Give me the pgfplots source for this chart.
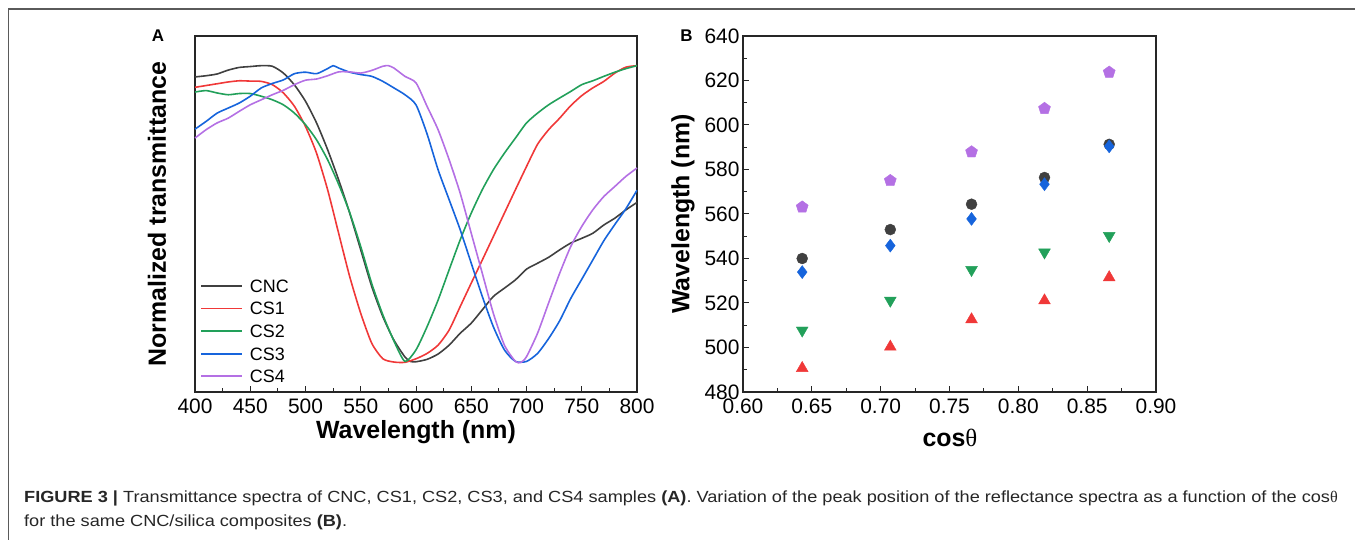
\documentclass[border=0pt]{standalone}
\usepackage{fontspec}
\setmainfont{Liberation Sans}
\newfontfamily\serif{Liberation Serif}
\newfontfamily\capfont[FakeStretch=1.125]{Liberation Sans}
\usepackage{pgfplots}
\pgfplotsset{compat=1.18}
\usetikzlibrary{plotmarks}
\definecolor{cCNC}{RGB}{64,64,64}
\definecolor{cCS1}{RGB}{240,56,56}
\definecolor{cCS2}{RGB}{34,160,90}
\definecolor{cCS3}{RGB}{22,100,220}
\definecolor{cCS4}{RGB}{180,112,228}
\definecolor{frame}{RGB}{90,90,90}

\pgfplotstableread{
x y
400 0.962
410 0.966
420 0.972
430 0.985
440 0.994
450 0.997
460 1.0
470 0.998
480 0.975
490 0.935
500 0.88
510 0.807
520 0.717
530 0.615
540 0.503
550 0.379
560 0.255
570 0.154
580 0.075
590 0.018
595 0.003
600 0.002
610 0.01
620 0.028
630 0.058
640 0.098
650 0.132
660 0.177
670 0.222
680 0.25
690 0.278
700 0.314
710 0.334
720 0.354
730 0.379
740 0.402
750 0.418
760 0.435
770 0.463
780 0.486
790 0.514
800 0.539
}\tCNC

\pgfplotstableread{
x y
400 0.927
410 0.933
420 0.939
430 0.945
440 0.949
450 0.948
460 0.947
470 0.936
480 0.908
490 0.863
500 0.795
510 0.705
520 0.582
530 0.435
540 0.289
550 0.165
560 0.064
570 0.012
580 0.001
590 0.0
600 0.012
610 0.03
620 0.058
630 0.109
640 0.188
650 0.267
660 0.345
670 0.424
680 0.503
690 0.582
700 0.66
710 0.735
720 0.784
730 0.823
740 0.865
750 0.899
760 0.925
770 0.947
780 0.975
790 0.995
800 1.0
}\tCSa

\pgfplotstableread{
x y
400 0.911
410 0.916
420 0.908
430 0.902
440 0.906
450 0.906
460 0.897
470 0.885
480 0.868
490 0.84
500 0.801
510 0.75
520 0.683
530 0.6
540 0.505
550 0.39
560 0.265
570 0.16
580 0.072
590 0.003
600 0.042
610 0.12
620 0.21
630 0.312
640 0.413
650 0.503
660 0.582
670 0.649
680 0.705
690 0.756
700 0.807
710 0.84
720 0.868
730 0.891
740 0.913
750 0.936
760 0.949
770 0.964
780 0.978
790 0.99
800 1.0
}\tCSb

\pgfplotstableread{
x y
400 0.786
410 0.812
420 0.84
430 0.857
440 0.874
450 0.897
460 0.925
470 0.94
480 0.952
490 0.973
500 0.978
510 0.973
520 0.99
525 1.0
530 0.992
540 0.978
550 0.97
560 0.964
570 0.947
580 0.925
590 0.902
600 0.868
610 0.77
620 0.649
630 0.548
640 0.447
650 0.334
660 0.222
670 0.12
680 0.042
690 0.003
700 0.003
710 0.03
720 0.08
730 0.14
740 0.215
750 0.28
760 0.345
770 0.41
780 0.465
790 0.518
800 0.58
}\tCSc

\pgfplotstableread{
x y
400 0.756
410 0.784
420 0.807
430 0.823
440 0.846
450 0.868
460 0.885
470 0.902
480 0.917
490 0.936
500 0.951
510 0.955
520 0.966
530 0.979
540 0.979
550 0.975
560 0.984
570 0.998
575 1.0
580 0.992
590 0.964
600 0.942
610 0.863
620 0.784
630 0.683
640 0.57
650 0.435
660 0.3
670 0.165
680 0.058
690 0.003
695 0.0
700 0.019
710 0.098
720 0.2
730 0.3
740 0.39
750 0.458
760 0.514
770 0.559
780 0.593
790 0.627
800 0.655
}\tCSd

\pgfplotstableread{
x y
0.643 540.0
0.707 553.0
0.766 564.4
0.819 576.4
0.866 591.3
}\bCNC
\pgfplotstableread{
x y
0.643 490.7
0.707 500.3
0.766 512.6
0.819 521.1
0.866 531.5
}\bCSa
\pgfplotstableread{
x y
0.643 507.7
0.707 521.1
0.766 534.9
0.819 542.8
0.866 550.2
}\bCSb
\pgfplotstableread{
x y
0.643 533.9
0.707 545.8
0.766 557.8
0.819 573.4
0.866 590.4
}\bCSc
\pgfplotstableread{
x y
0.643 563.1
0.707 575.0
0.766 587.9
0.819 607.4
0.866 623.7
}\bCSd

\pgfplotsset{
  common/.style={
    scale only axis,
    axis line style={line width=1.4bp, black!85},
    tick style={line width=1bp, black!85},
    tick align=inside,
    major tick length=6bp,
    minor tick length=3.5bp,
    tick label style={font=\fontsize{21}{21}\selectfont, /pgf/number format/assume math mode=true},
    label style={font=\fontsize{25}{25}\selectfont\bfseries},
    xticklabel style={yshift=-3bp},
    clip=false,
  },
  curve/.style={line width=1.6bp, smooth, tension=0.4},
}

\begin{document}
\begin{tikzpicture}
\useasboundingbox (0bp,0bp) rectangle (1355bp,540bp);
\draw[frame, line width=1.2bp] (8.5bp,0bp) -- (8.5bp,531bp) -- (1355bp,531bp);

\begin{axis}[common,
  at={(195bp,148bp)}, anchor=south west,
  width=442bp, height=356bp,
  xmin=400, xmax=800, ymin=-0.1, ymax=1.1,
  xtick={400,450,...,800}, minor x tick num=1,
  ytick=\empty,
  xtick pos=left,
  xlabel={Wavelength (nm)},
  ylabel={Normalized transmittance},
  xlabel style={at={(axis description cs:0.5,-0.1124)}, anchor=center},
  ylabel style={at={(axis description cs:-0.086,0.5)}, anchor=center},
  legend style={at={(axis description cs:0.0113,0.3169)}, anchor=north west,
    draw=none, fill=none, inner sep=0pt, row sep=9.6bp, column sep=7bp,
    font=\fontsize{18}{18}\selectfont,
    nodes={inner sep=0pt, text height=13bp, text depth=0bp}},
  legend cell align=left,
  legend image code/.code={\draw[#1, sharp plot, line width=1.8bp] (0bp,0bp) -- (41bp,0bp);},
]
\addplot[curve, color=cCNC] table {\tCNC};
\addplot[curve, color=cCS1] table {\tCSa};
\addplot[curve, color=cCS2] table {\tCSb};
\addplot[curve, color=cCS3] table {\tCSc};
\addplot[curve, color=cCS4] table {\tCSd};
\legend{CNC, CS1, CS2, CS3, CS4}
\end{axis}

\begin{axis}[common,
  at={(743bp,148bp)}, anchor=south west,
  width=413bp, height=356bp,
  xmin=0.6, xmax=0.9, ymin=480, ymax=640,
  xtick={0.6,0.65,0.7,0.75,0.8,0.85,0.9},
  ytick={480,500,520,540,560,580,600,620,640},
  minor x tick num=1, minor y tick num=1,
  tick pos=left,
  xticklabel style={/pgf/number format/.cd, fixed, fixed zerofill, precision=2},
  yticklabel style={/pgf/number format/.cd, fixed, precision=0},
  xlabel={cos{\serif\mdseries θ}},
  ylabel={Wavelength (nm)},
  xlabel style={at={(axis description cs:0.501,-0.129)}, anchor=center},
  ylabel style={at={(axis description cs:-0.1453,0.5)}, anchor=center},
]
\addplot[only marks, mark=*, mark size=5.5bp, mark options={draw=cCNC, fill=cCNC}] table {\bCNC};
\addplot[only marks, mark=triangle*, mark size=6.8bp, mark options={draw=cCS1, fill=cCS1}] table {\bCSa};
\addplot[only marks, mark=triangle*, mark size=6.8bp, mark options={draw=cCS2, fill=cCS2, rotate=180}] table {\bCSb};
\addplot[only marks, mark=pentagon*, mark size=6.3bp, mark options={draw=cCS4, fill=cCS4}] table {\bCSd};
\addplot[only marks, mark=diamond*, mark size=6.5bp, mark options={draw=cCS3, fill=cCS3}] table {\bCSc};
\end{axis}

\node[font=\fontsize{17}{17}\selectfont\bfseries] at (158bp,504bp) {A};
\node[font=\fontsize{17}{17}\selectfont\bfseries] at (686.5bp,504bp) {B};

\node[anchor=base west, inner sep=0pt, text=black!85, font=\capfont\fontsize{16.2}{20}\selectfont] at (24bp,37.5bp)
  {\textbf{FIGURE 3 |} Transmittance spectra of CNC, CS1, CS2, CS3, and CS4 samples \textbf{(A)}. Variation of the peak position of the reflectance spectra as a function of the cos{\serif θ}};
\node[anchor=base west, inner sep=0pt, text=black!85, font=\capfont\fontsize{16.2}{20}\selectfont] at (24bp,14bp)
  {for the same CNC/silica composites \textbf{(B)}.};
\end{tikzpicture}
\end{document}
